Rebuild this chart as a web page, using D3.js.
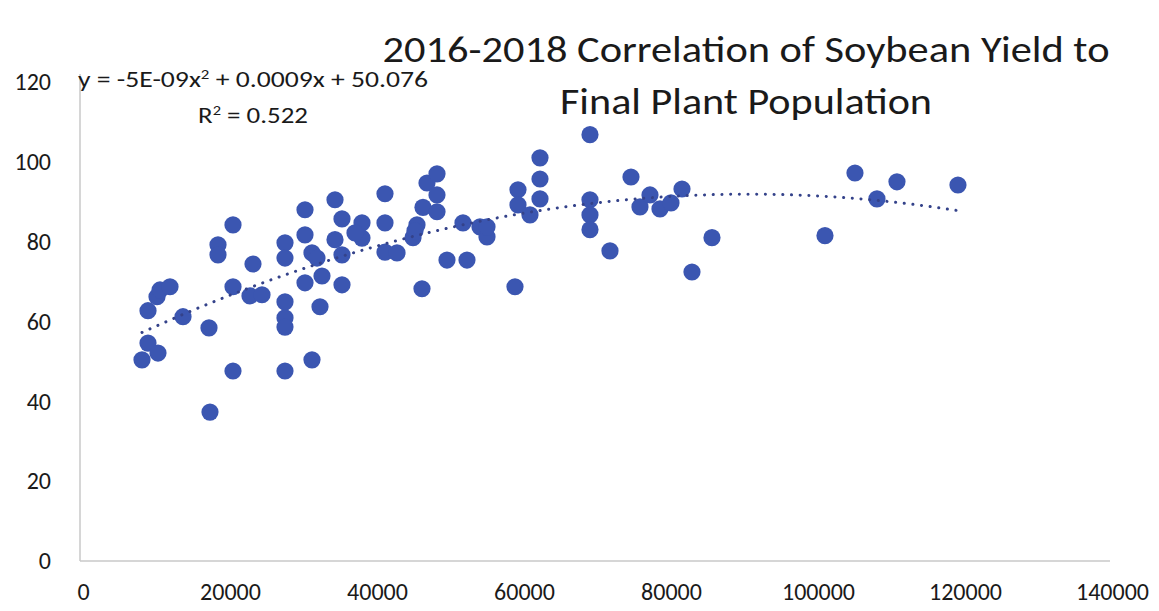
<!DOCTYPE html>
<html><head><meta charset="utf-8">
<script src="https://cdn.jsdelivr.net/npm/d3@7"></script>
<style>
html,body{margin:0;padding:0;background:#fff;}
svg{display:block;font-family:Carlito,Calibri,Lato,sans-serif;}
</style></head>
<body><svg id="chart" width="1159" height="611"></svg>
<script>
// Final plant population (plants/acre)
const population = [8027,8843,10204,8843,10068,10476,11836,13605,17142,17278,18367,18367,20408,20408,20408,22720,23129,24353,27482,27482,27482,27482,27482,27482,30203,30203,30203,31155,31836,31155,32244,32516,34285,34285,35237,35237,35237,37958,37958,37006,41087,41087,41087,42720,44897,45441,45169,46121,46257,46801,48162,48162,48162,49522,52243,51699,54012,54964,54964,58774,59182,59182,60814,62175,62175,62175,68977,68977,68977,68977,71698,74555,75779,77140,78501,79997,81494,82854,85575,100949,105030,108023,110744,119043];
// Soybean yield (bu/acre)
const yieldVals = [50.4,54.6,52.1,62.7,66.2,67.9,68.7,61.2,58.4,37.3,79.2,76.7,84.2,68.7,47.6,66.4,74.4,66.7,79.7,75.9,64.9,60.9,58.6,47.6,88.0,81.7,69.7,77.2,75.9,50.4,63.7,71.4,90.5,80.5,85.7,76.7,69.2,84.7,80.9,82.2,92.0,84.7,77.4,77.2,81.0,84.2,82.7,68.2,88.6,94.7,97.0,91.7,87.5,75.4,75.4,84.7,83.7,81.2,83.7,68.7,93.0,89.2,86.7,101.0,95.7,90.7,106.8,90.5,86.7,83.0,77.7,96.2,88.7,91.7,88.2,89.7,93.2,72.4,81.0,81.5,97.2,90.7,95.0,94.2];
const xTicks = [0,20000,40000,60000,80000,100000,120000,140000];
const yTicks = [0,20,40,60,80,100,120];
const titleLines = ["2016-2018 Correlation of Soybean Yield to","Final Plant Population"];
const equationText = "-5E-09x";
const equationRest = " + 0.0009x + 50.076";
const rSquared = "0.522";

const svg = d3.select("#chart");
const x = d3.scaleLinear().domain([0,140000]).range([83,1112]);
const y = d3.scaleLinear().domain([0,120]).range([561,82]);
const grey = "#c9c9c9", txt = "#1a1a1a", blue = "#3b56b1";
const FONT = "Carlito,Calibri,Lato,sans-serif";

// axes
const xAxis = svg.append("g").attr("transform","translate(0,561)")
  .call(d3.axisBottom(x).tickValues(xTicks).tickSize(0).tickPadding(22).tickFormat(d3.format("d")));
xAxis.select(".domain").remove();
xAxis.selectAll("text").attr("font-size",24).attr("fill",txt).attr("font-family",FONT);
const yAxis = svg.append("g").attr("transform","translate(80,0)")
  .call(d3.axisLeft(y).tickValues(yTicks).tickSize(0).tickPadding(29));
yAxis.select(".domain").remove();
yAxis.selectAll("text").attr("font-size",24).attr("fill",txt).attr("font-family",FONT);

svg.append("line").attr("x1",80).attr("x2",1110).attr("y1",561).attr("y2",561).attr("stroke",grey).attr("stroke-width",1.5);
svg.append("line").attr("x1",80).attr("x2",80).attr("y1",561).attr("y2",74).attr("stroke",grey).attr("stroke-width",1.5);

// points
const pts = population.map((p,i)=>({p, v:yieldVals[i]}));
svg.append("g").selectAll("circle").data(pts).join("circle")
  .attr("cx",d=>x(d.p)).attr("cy",d=>y(d.v)).attr("r",8.6)
  .attr("fill",blue);

// polynomial (order 2) least-squares trendline fitted to the data
function polyfit2(xs, ys){
  const s = 1e-4; // scale for conditioning
  let S=[0,0,0,0,0], T=[0,0,0];
  xs.forEach((xv,i)=>{const u=xv*s; let pw=1; for(let k=0;k<5;k++){S[k]+=pw; if(k<3) T[k]+=pw*ys[i]; pw*=u;}});
  const A=[[S[0],S[1],S[2],T[0]],[S[1],S[2],S[3],T[1]],[S[2],S[3],S[4],T[2]]];
  for(let c=0;c<3;c++){for(let r=c+1;r<3;r++){const f=A[r][c]/A[c][c]; for(let k=c;k<4;k++) A[r][k]-=f*A[c][k];}}
  const b=[0,0,0];
  for(let r=2;r>=0;r--){let v=A[r][3]; for(let k=r+1;k<3;k++) v-=A[r][k]*b[k]; b[r]=v/A[r][r];}
  return u=>b[0]+b[1]*(u*s)+b[2]*(u*s)*(u*s);
}
const fit = polyfit2(population, yieldVals);
const xmin = d3.min(population), xmax = d3.max(population);
const trend = d3.range(xmin, xmax+1, 500).map(p=>({p, v: fit(p)}));
svg.append("path").datum(trend)
  .attr("d", d3.line().x(d=>x(d.p)).y(d=>y(d.v)))
  .attr("fill","none").attr("stroke","#34428a").attr("stroke-width",3)
  .attr("stroke-dasharray","0.1,8.6").attr("stroke-linecap","round");

// equation text
const eq = svg.append("text").attr("x",78).attr("y",87).attr("font-size",23).attr("fill",txt)
  .attr("textLength",350).attr("lengthAdjust","spacingAndGlyphs");
eq.append("tspan").text("y = " + equationText);
eq.append("tspan").attr("font-size",14).attr("dy",-8).text("2");
eq.append("tspan").attr("dy",8).text(equationRest);
const r2 = svg.append("text").attr("x",198).attr("y",123).attr("font-size",23).attr("fill",txt)
  .attr("textLength",110).attr("lengthAdjust","spacingAndGlyphs");
r2.append("tspan").text("R");
r2.append("tspan").attr("font-size",14).attr("dy",-8).text("2");
r2.append("tspan").attr("dy",8).text(" = " + rSquared);

// title
svg.append("text").attr("x",746).attr("y",62).attr("text-anchor","middle").attr("font-size",36).attr("fill",txt)
  .attr("textLength",727).attr("lengthAdjust","spacingAndGlyphs").text(titleLines[0]);
svg.append("text").attr("x",746).attr("y",114).attr("text-anchor","middle").attr("font-size",36).attr("fill",txt)
  .attr("textLength",372).attr("lengthAdjust","spacingAndGlyphs").text(titleLines[1]);
</script></body></html>
